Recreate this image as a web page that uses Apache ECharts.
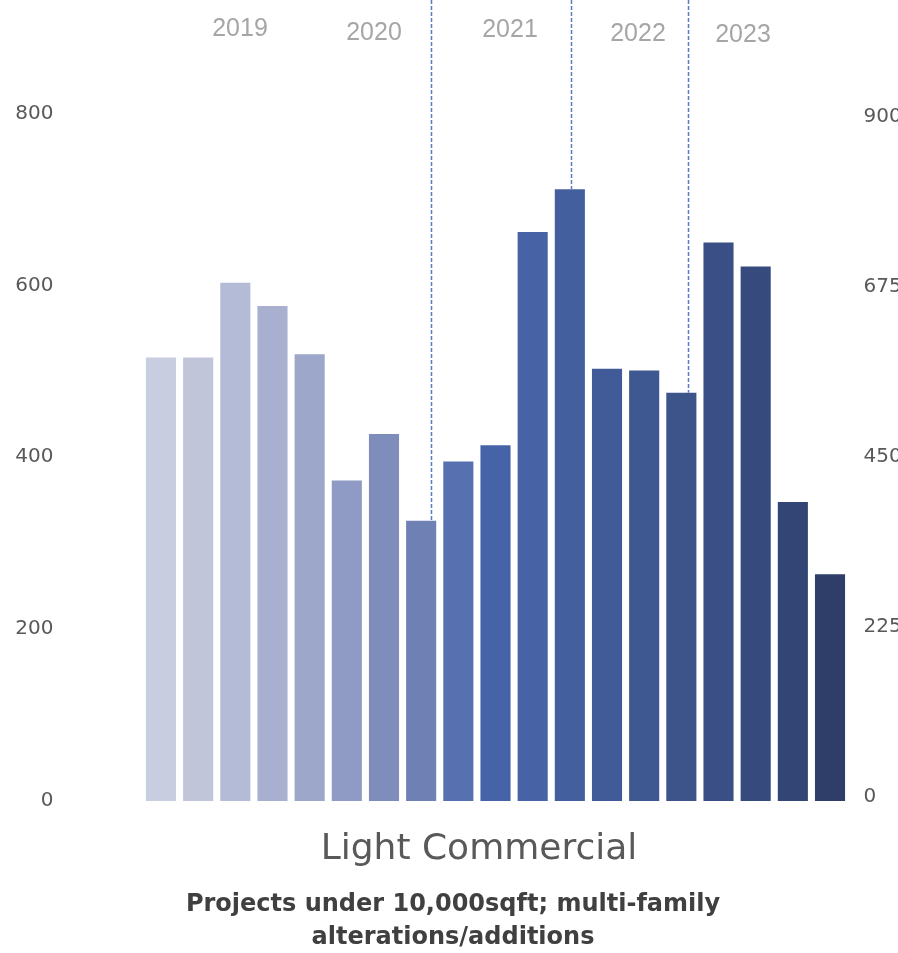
<!DOCTYPE html>
<html>
<head>
<meta charset="utf-8">
<script src="https://cdn.jsdelivr.net/npm/echarts@6/dist/echarts.min.js"></script>
<style>
  html, body { margin: 0; padding: 0; background: #ffffff; }
  #chart { width: 898px; height: 953px; }
</style>
</head>
<body>
<div id="chart"></div>
<script>
// Quarterly permit counts, light commercial work
const quarters = [
  '2019 Q1', '2019 Q2', '2019 Q3', '2019 Q4',
  '2020 Q1', '2020 Q2', '2020 Q3', '2020 Q4',
  '2021 Q1', '2021 Q2', '2021 Q3', '2021 Q4',
  '2022 Q1', '2022 Q2', '2022 Q3', '2022 Q4',
  '2023 Q1', '2023 Q2', '2023 Q3'
];
const permits = [
  516, 516, 603, 576,
  520, 373, 427, 326,
  395, 414, 662, 712,
  503, 501, 475, 650,
  622, 348, 264
];
const yearLabels = ['2019', '2020', '2021', '2022', '2023'];
const markedQuarters = ['2020 Q4', '2021 Q4', '2022 Q3'];
const leftAxis = { min: 0, max: 800, interval: 200 };
const rightAxis = { min: 0, max: 900, interval: 225 };
const titleText = 'Light Commercial';
const subtitleLines = ['Projects under 10,000sqft; multi-family', 'alterations/additions'];

// Styling
const barPalette = [
  '#c8cde0', '#c0c5da', '#b4bbd6', '#a9b0cf',
  '#9da7c9', '#8f9bc4', '#7f8dba', '#6f80b5',
  '#5670b0', '#4763a8', '#4762a5', '#445f9d',
  '#405b98', '#3e5892', '#3c5489', '#3a4f86',
  '#364a7e', '#324574', '#2e3e69'
];
const yearLabelPos = [[240, 29], [374, 33], [510, 30], [638, 34], [743, 35]];
const guideNudge = [10, 1, 7];
const axisFont = { fontFamily: 'DejaVu Sans', fontSize: 20, color: '#595959' };

const chart = echarts.init(document.getElementById('chart'), null, { renderer: 'canvas' });

const guideData = markedQuarters.map(q => [q, permits[quarters.indexOf(q)]]);

const graphics = yearLabels.map((y, i) => ({
  type: 'text',
  x: yearLabelPos[i][0],
  y: yearLabelPos[i][1],
  style: {
    text: y,
    fill: '#a6a6a6',
    font: '25px "Liberation Sans", Arial, sans-serif',
    align: 'center',
    verticalAlign: 'middle'
  }
}));
graphics.push({
  type: 'text',
  x: 479, y: 850,
  style: {
    text: titleText,
    fill: '#595959',
    font: '36px "DejaVu Sans", sans-serif',
    align: 'center',
    verticalAlign: 'middle'
  }
});
subtitleLines.forEach((line, i) => {
  graphics.push({
    type: 'text',
    x: 453, y: 905 + i * 33,
    style: {
      text: line,
      fill: '#404040',
      font: 'bold 24px "DejaVu Sans", sans-serif',
      align: 'center',
      verticalAlign: 'middle'
    }
  });
});

chart.setOption({
  animation: false,
  backgroundColor: '#ffffff',
  grid: [
    { left: 142.4, right: 49.4, top: 113.5, bottom: 152, outerBoundsMode: 'none' },
    { left: 142.4, right: 49.4, top: 117, bottom: 156, outerBoundsMode: 'none' }
  ],
  xAxis: [
    {
      type: 'category', gridIndex: 0, data: quarters,
      axisLine: { show: false }, axisTick: { show: false }, axisLabel: { show: false }
    },
    {
      type: 'category', gridIndex: 1, data: quarters, show: false
    }
  ],
  yAxis: [
    {
      type: 'value', gridIndex: 0,
      min: leftAxis.min, max: leftAxis.max, interval: leftAxis.interval,
      axisLine: { show: false }, axisTick: { show: false }, splitLine: { show: false },
      axisLabel: Object.assign({ margin: 89 }, axisFont)
    },
    {
      type: 'value', gridIndex: 1, position: 'right',
      min: rightAxis.min, max: rightAxis.max, interval: rightAxis.interval,
      axisLine: { show: false }, axisTick: { show: false }, splitLine: { show: false },
      axisLabel: Object.assign({ margin: 15 }, axisFont)
    }
  ],
  series: [
    {
      type: 'bar',
      xAxisIndex: 0, yAxisIndex: 0,
      data: permits,
      barCategoryGap: '19%',
      itemStyle: { color: p => barPalette[p.dataIndex] }
    },
    {
      type: 'custom',
      xAxisIndex: 0, yAxisIndex: 0,
      data: guideData,
      clip: false,
      z: 5,
      renderItem: (params, api) => {
        const top = api.coord([api.value(0), api.value(1)]);
        const x = Math.round(top[0] + guideNudge[params.dataIndex]) + 0.5;
        return {
          type: 'line',
          shape: { x1: x, y1: 0, x2: x, y2: top[1] },
          style: { stroke: '#5a7cc4', lineWidth: 1.5, lineDash: [4, 2] }
        };
      }
    }
  ],
  graphic: graphics
});
</script>
</body>
</html>
